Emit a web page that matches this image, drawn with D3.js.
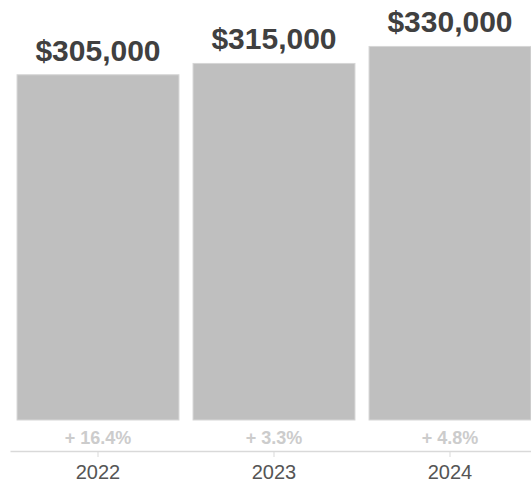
<!DOCTYPE html>
<html>
<head>
<meta charset="utf-8">
<script src="https://cdn.jsdelivr.net/npm/d3@7"></script>
<style>
  html, body { margin: 0; padding: 0; background: #fff; overflow: hidden; }
  svg { display: block; font-family: "Helvetica Neue", Helvetica, Arial, "Liberation Sans", sans-serif; }
</style>
</head>
<body>
<svg id="chart" width="531" height="486"></svg>
<script>
// Median price by year, with year-over-year change
const years = ["2022", "2023", "2024"];
const prices = [305000, 315000, 330000];
const changes = ["+ 16.4%", "+ 3.3%", "+ 4.8%"];

const svg = d3.select("#chart");
const baseY = 420;

const x = d3.scaleBand()
  .domain(years)
  .range([10, 538])
  .paddingInner(0.08)
  .paddingOuter(0.04);

const y = d3.scaleLinear()
  .domain([0, 363000])
  .range([baseY, 9.1]);

const data = years.map((yr, i) => ({ year: yr, price: prices[i], change: changes[i] }));

// Bars
svg.append("g")
  .selectAll("rect")
  .data(data)
  .join("rect")
  .attr("x", d => x(d.year))
  .attr("y", d => y(d.price))
  .attr("width", x.bandwidth())
  .attr("height", d => baseY - y(d.price))
  .attr("fill", "#bfbfbf")
  .attr("stroke", "#d6d6d6")
  .attr("stroke-width", 1);

// Value labels above bars
const fmt = d3.format("$,.0f");
svg.append("g")
  .selectAll("text")
  .data(data)
  .join("text")
  .attr("x", d => x(d.year) + x.bandwidth() / 2)
  .attr("y", d => y(d.price) - 14)
  .attr("text-anchor", "middle")
  .attr("font-size", 30)
  .attr("font-weight", "bold")
  .attr("fill", "#404040")
  .text(d => fmt(d.price));

// Change labels below bars
svg.append("g")
  .selectAll("text")
  .data(data)
  .join("text")
  .attr("x", d => x(d.year) + x.bandwidth() / 2)
  .attr("y", 444)
  .attr("text-anchor", "middle")
  .attr("font-size", 18)
  .attr("font-weight", "bold")
  .attr("fill", "#cccccc")
  .text(d => d.change);

// Year axis
const axis = svg.append("g")
  .attr("transform", "translate(0,451)")
  .call(d3.axisBottom(x).tickSize(6).tickSizeOuter(0).tickPadding(8));
axis.select(".domain").attr("stroke", "#d9d9d9").attr("stroke-width", 1.5);
axis.selectAll(".tick line").attr("stroke", "#d9d9d9");
axis.selectAll(".tick text")
  .attr("font-size", 20)
  .attr("fill", "#555555")
  .attr("font-family", "\"Helvetica Neue\", Helvetica, Arial, \"Liberation Sans\", sans-serif");
</script>
</body>
</html>
